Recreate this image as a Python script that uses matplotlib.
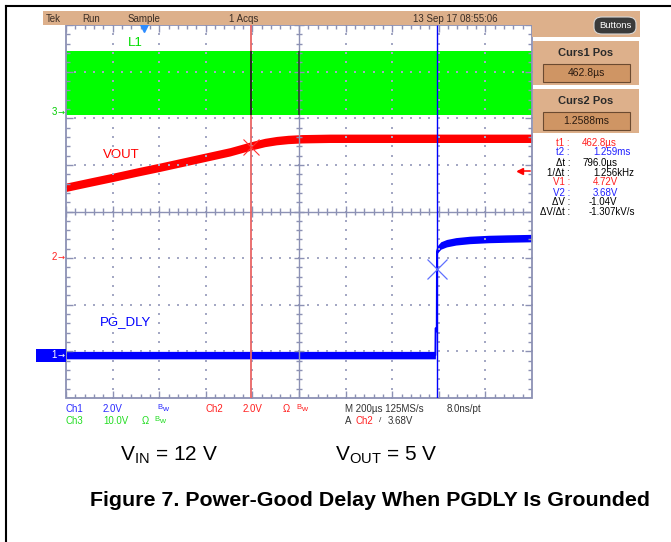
import matplotlib
matplotlib.use("Agg")
import matplotlib.pyplot as plt
import numpy as np
from matplotlib.patches import Rectangle, FancyBboxPatch
from matplotlib.lines import Line2D
from matplotlib.collections import LineCollection
from matplotlib import font_manager

# ---------------- data ----------------
time_per_div_us = 200.0
screen_start_us = -333.33          # time at left edge of graticule (trigger at 0)
n_xdiv, n_ydiv = 10, 8

ch1_volts_per_div = 2.0
ch2_volts_per_div = 2.0
ch3_volts_per_div = 10.0
ch1_ground_div = 0.92
ch2_ground_div = 3.02
ch3_ground_div = 6.13

# Ch3: switch node L1 (band between low and high levels)
l1_low_v = -0.6
l1_high_v = 13.1

# Ch2: VOUT
vout_t_us = [-333, -230, -130, -30, 70, 170, 270, 370, 463, 520, 570, 620, 680, 800, 1000, 1300, 1667]
vout_v = [3.00, 3.22, 3.43, 3.65, 3.86, 4.08, 4.30, 4.52, 4.78, 4.92, 5.00, 5.05, 5.08, 5.10, 5.10, 5.10, 5.10]

# Ch1: PG_DLY
pg_t_us = [-333, 1252, 1253, 1258, 1259, 1262, 1275, 1300, 1340, 1400, 1480, 1560, 1667]
pg_v = [0.0, 0.0, 1.15, 1.15, 4.45, 4.55, 4.70, 4.80, 4.88, 4.94, 4.98, 5.00, 5.02]

cursor1_us = 462.8
cursor2_us = 1258.8
v1_level = 4.72
v2_level = 3.68
trigger_level_v = 3.68

readout_labels = ["t1 :", "t2 :", "\u0394t :", "1/\u0394t :", "V1 :", "V2 :", "\u0394V :", "\u0394V/\u0394t :"]
readout_values = ["462.8\u00b5s", "1.259ms", "796.0\u00b5s", "1.256kHz", "4.72V", "3.68V", "-1.04V", "-1.307kV/s"]
readout_colors = ["#ff2020", "#2020ff", "black", "black", "#ff2020", "#2020ff", "black", "black"]

# ---------------- styling ----------------
names = {f.name for f in font_manager.fontManager.ttflist}
narrow = "Liberation Sans Narrow" if "Liberation Sans Narrow" in names else "Liberation Sans"
plt.rcParams['font.family'] = ['Liberation Sans', 'DejaVu Sans']
plt.rcParams['mathtext.default'] = 'regular'

W, H = 671, 542
fig = plt.figure(figsize=(W / 100, H / 100), dpi=100)
fig.patch.set_facecolor('white')

def fx(x):
    return x / W

def fy(y):
    return 1 - y / H

TAN = '#ddb08b'
GC = '#8c91b4'
GCD = '#a4a8c4'

# page border lines
fig.add_artist(Line2D([fx(6), 1], [fy(6), fy(6)], color='black', lw=1.5))
fig.add_artist(Line2D([fx(6), fx(6)], [fy(6), 0], color='black', lw=1.5))

# header bar
fig.add_artist(Rectangle((fx(43), fy(25)), fx(532) - fx(43), fy(11) - fy(25), color=TAN, lw=0))
hdr = [(46, "Tek"), (82, "Run"), (128, "Sample"), (229, "1 Acqs"), (413, "13 Sep 17 08:55:06")]
for x, s in hdr:
    fig.text(fx(x), fy(18.5), s, fontsize=7, color='#3b2e25', va='center', ha='left', family=narrow)

# right panel
fig.add_artist(Rectangle((fx(532), fy(37)), fx(640) - fx(532), fy(11) - fy(37), color=TAN, lw=0))
fig.add_artist(FancyBboxPatch((fx(594), fy(34)), fx(636) - fx(594), fy(17) - fy(34),
                              boxstyle="round,pad=0,rounding_size=0.012", fc='#3a3a3a', ec='#d8d8d8', lw=0.8))
fig.text(fx(615), fy(25.5), "Buttons", fontsize=6.8, color='white', ha='center', va='center', family=narrow)
for (y0, y1, title, val) in [(41, 85, "Curs1 Pos", "462.8\u00b5s"), (89, 133, "Curs2 Pos", "1.2588ms")]:
    fig.add_artist(Rectangle((fx(533), fy(y1)), fx(639) - fx(533), fy(y0) - fy(y1), color=TAN, lw=0))
    fig.text(fx(586), fy(y0 + 12), title, fontsize=8, fontweight='bold', color='#2a2a2a', ha='center', va='center')
    fig.add_artist(Rectangle((fx(543), fy(y1 - 3)), fx(630) - fx(543), fy(y0 + 23) - fy(y1 - 3),
                             fc='#cf9564', ec='#6b4a30', lw=0.8))
    fig.text(fx(586.5), fy((y0 + 23 + y1 - 3) / 2), val, fontsize=7.5, color='#2a1a10', ha='center', va='center', family=narrow)

ys_read = [143, 152, 163, 173, 182, 193, 202, 212]
xs_val = [582, 593, 582, 593, 593, 593, 589, 589]
for lab, val, col, yy, xv in zip(readout_labels, readout_values, readout_colors, ys_read, xs_val):
    fig.text(fx(570), fy(yy), lab, fontsize=7, color=col, ha='right', va='center', family=narrow)
    fig.text(fx(xv), fy(yy), val, fontsize=7, color=col, ha='left', va='center', family=narrow)

# ---------------- scope screen ----------------
ax = fig.add_axes([fx(66), fy(398), fx(532) - fx(66), fy(25) - fy(398)])
t_end = screen_start_us + n_xdiv * time_per_div_us
ax.set_xlim(screen_start_us, t_end)
ax.set_ylim(0, n_ydiv)
ax.axis('off')

def xd(d):
    return screen_start_us + d * time_per_div_us

# Ch3 band
g_lo = ch3_ground_div + l1_low_v / ch3_volts_per_div
g_hi = ch3_ground_div + l1_high_v / ch3_volts_per_div
ax.fill_between([screen_start_us, t_end], g_lo, g_hi, color='#00ff00', lw=0, zorder=2)

# Ch2 VOUT
vt = np.array(vout_t_us)
vy = ch2_ground_div + np.array(vout_v) / ch2_volts_per_div
band = 0.09
ax.fill_between(vt, vy - band, vy + band, color='#ff0000', lw=0, zorder=4)
ax.plot(vt, vy, color='#ff0000', lw=1.2, zorder=4)

# Ch1 PG_DLY
pt = np.array(pg_t_us)
py = ch1_ground_div + np.array(pg_v) / ch1_volts_per_div
ax.fill_between(pt, py - 0.08, py + 0.08, color='#0000ff', lw=0, zorder=4)
ax.plot(pt, py, color='#0000ff', lw=1.4, zorder=4)

# graticule
segs = []
for k in range(1, n_xdiv):
    if k == 5:
        continue
    ys = np.arange(0, n_ydiv + 0.01, 0.2)
    ax.scatter(np.full(len(ys), xd(k)), ys, s=1.0, c=GCD, marker='s', lw=0, zorder=5)
for j in range(1, n_ydiv):
    if j == 4:
        continue
    xs = np.array([xd(d) for d in np.arange(0, n_xdiv + 0.01, 0.2)])
    ax.scatter(xs, np.full(len(xs), j), s=1.0, c=GCD, marker='s', lw=0, zorder=5)
tick = 0.07
tickx = 0.07 * time_per_div_us
for i, d in enumerate(np.arange(0, n_xdiv + 0.001, 0.2)):
    L = tick * (1.6 if i % 5 == 0 else 1.0)
    segs.append([(xd(d), 4 - L), (xd(d), 4 + L)])
    segs.append([(xd(d), 0), (xd(d), 0 + L * 1.3)])
    segs.append([(xd(d), n_ydiv), (xd(d), n_ydiv - L * 1.3)])
for i, e in enumerate(np.arange(0, n_ydiv + 0.001, 0.2)):
    L = tickx * (1.6 if i % 5 == 0 else 1.0)
    segs.append([(xd(5) - L, e), (xd(5) + L, e)])
    segs.append([(xd(0), e), (xd(0) + L * 1.3, e)])
    segs.append([(xd(10), e), (xd(10) - L * 1.3, e)])
segs.append([(xd(5), 0), (xd(5), n_ydiv)])
segs.append([(xd(0), 4), (xd(10), 4)])
ax.add_collection(LineCollection(segs, colors=GC, lw=1.0, zorder=5))
ax.add_patch(Rectangle((screen_start_us, 0), n_xdiv * time_per_div_us, n_ydiv,
                       fill=False, ec=GC, lw=1.3, zorder=5, clip_on=False))
# dark graticule over green band
ax.vlines([xd(5)], g_lo, g_hi, color='#1f4a1f', lw=1.2, zorder=5)

# cursors
ax.vlines([cursor1_us], 0, n_ydiv, color='#e86464', lw=1.3, zorder=6)
ax.vlines([cursor1_us], g_lo, g_hi, color='#103010', lw=1.3, zorder=6)
ax.vlines([cursor2_us], 0, n_ydiv, color='#0000ff', lw=1.0, zorder=6)
ax.plot([cursor1_us], [ch2_ground_div + v1_level / ch2_volts_per_div], marker='x', ms=12,
        mew=0.8, color='#ff3030', zorder=7)
ax.plot([cursor2_us], [ch1_ground_div + v2_level / ch1_volts_per_div], marker='x', ms=15,
        mew=0.9, color='#6070ff', zorder=7)

# trigger position marker and trigger level
ax.plot([0], [n_ydiv - 0.04], marker='v', ms=7, color='#2d8cff', clip_on=False, zorder=8)
ty = ch2_ground_div + trigger_level_v / ch2_volts_per_div
ax.plot([t_end - 0.28 * time_per_div_us, t_end - 0.05 * time_per_div_us], [ty, ty],
        color='#ff0000', lw=1.1, zorder=8)
ax.plot([t_end - 0.26 * time_per_div_us], [ty], marker='<', ms=4.5, color='#ff0000', zorder=8)

# trace labels
ax.text(xd(1.32), 7.62, "L1", color='#00dd00', fontsize=9.5, va='center', ha='left')
ax.text(xd(0.8), 5.21, "VOUT", color='#ff0000', fontsize=9.5, va='center', ha='left')
ax.text(xd(0.72), 1.63, "PG_DLY", color='#0000ff', fontsize=9.5, va='center', ha='left')

# channel ground markers (left of screen)
def ypix_of_div(d):
    return 398 - d * (373 / 8)

fig.text(fx(57), fy(ypix_of_div(ch3_ground_div)), "3", color='#00cc00', fontsize=7, ha='right', va='center', family=narrow)
fig.text(fx(58), fy(ypix_of_div(ch3_ground_div)), "\u2192", color='#00cc00', fontsize=6, ha='left', va='center', family='DejaVu Sans')
fig.text(fx(57), fy(ypix_of_div(ch2_ground_div)), "2", color='#ff2020', fontsize=7, ha='right', va='center', family=narrow)
fig.text(fx(58), fy(ypix_of_div(ch2_ground_div)), "\u2192", color='#ff2020', fontsize=6, ha='left', va='center', family='DejaVu Sans')
yb = ypix_of_div(ch1_ground_div)
fig.add_artist(Rectangle((fx(36), fy(yb + 6.5)), fx(66) - fx(36), fy(yb - 6.5) - fy(yb + 6.5), color='#0000ff', lw=0))
fig.text(fx(57), fy(yb), "1", color='white', fontsize=7, ha='right', va='center', family=narrow)
fig.text(fx(58), fy(yb), "\u2192", color='white', fontsize=6, ha='left', va='center', family='DejaVu Sans')

# bottom status text
r1, r2 = 409, 421
def st(x, y, s, c, fs=7):
    fig.text(fx(x), fy(y), s, color=c, fontsize=fs, ha='left', va='center', family=narrow)

def bw(x, y, c):
    fig.text(fx(x), fy(y - 1.5), "B", color=c, fontsize=5.5, ha='left', va='center', family=narrow)
    fig.text(fx(x + 5), fy(y + 0.5), "w", color=c, fontsize=6, ha='left', va='center', family=narrow)

BL, RD, GR, DK = '#2a2aff', '#ff2020', '#22dd22', '#333333'
st(66, r1, "Ch1", BL); st(103, r1, "2.0V", BL); bw(157, r1, BL)
st(205, r1, "Ch2", RD); st(243, r1, "2.0V", RD); st(283, r1, "\u03a9", RD); bw(296, r1, RD)
st(345, r1, "M 200\u00b5s 125MS/s", DK); st(447, r1, "8.0ns/pt", DK)
st(66, r2, "Ch3", GR); st(103, r2, "10.0V", GR); st(142, r2, "\u03a9", GR); bw(154, r2, GR)
st(345, r2, "A", DK); st(356, r2, "Ch2", RD); st(379, r2, "/", DK, fs=6); st(388, r2, "3.68V", DK)

# conditions and caption
fig.text(fx(120), fy(461), r"V$_{IN}$ = 12 V", fontsize=15, color='black', ha='left', va='baseline')
fig.text(fx(335), fy(461), r"V$_{OUT}$ = 5 V", fontsize=15, color='black', ha='left', va='baseline')
fig.text(fx(90), fy(506), "Figure 7. Power-Good Delay When PGDLY Is Grounded", fontsize=15.4,
         fontweight='bold', color='black', ha='left', va='baseline')

fig.savefig("out.png", dpi=100)
